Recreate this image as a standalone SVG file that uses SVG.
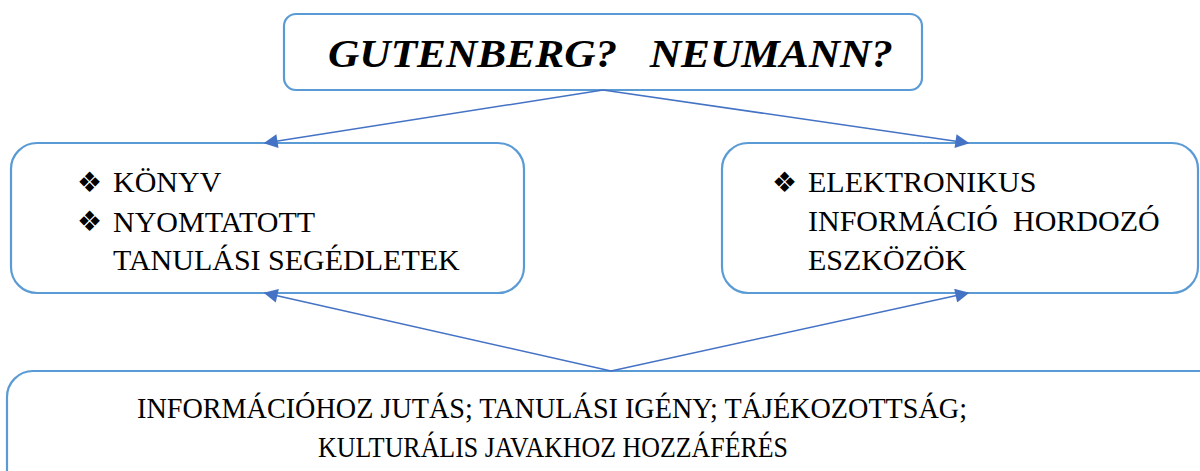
<svg xmlns="http://www.w3.org/2000/svg" width="1200" height="471" viewBox="0 0 1200 471">
<style>
.box{fill:#fff;stroke:#5b9bd5;stroke-width:2.2}
.c{stroke:#4472c4;stroke-width:1.5;fill:none}
.t{font-family:'Liberation Serif',serif;font-size:30px;fill:#000}
.h{font-family:'Liberation Serif',serif;font-size:41px;font-weight:bold;font-style:italic;fill:#000}
.b{font-family:'DejaVu Sans',sans-serif;font-size:28px;fill:#000}
</style>
<defs>
<marker id="ah" viewBox="0 0 10 10" refX="9" refY="5" markerWidth="16" markerHeight="14" markerUnits="userSpaceOnUse" orient="auto">
<path d="M0,0 L10,5 L0,10 z" fill="#4472c4"/>
</marker>
</defs>
<g id="top">
<rect class="box" x="284" y="14" width="638" height="76" rx="12"/>
<text class="h" font-family="Liberation Serif" x="328" y="67" textLength="565" lengthAdjust="spacingAndGlyphs">GUTENBERG?&#160;&#160; NEUMANN?</text>
</g>
<g id="left">
<rect class="box" x="11" y="143" width="513" height="150" rx="26"/>
<text class="b" x="77" y="192">❖</text>
<text class="t" font-family="Liberation Serif" x="113" y="192">KÖNYV</text>
<text class="b" x="77" y="231">❖</text>
<text class="t" font-family="Liberation Serif" x="113" y="232">NYOMTATOTT</text>
<text class="t" font-family="Liberation Serif" x="113" y="270">TANULÁSI SEGÉDLETEK</text>
</g>
<g id="right">
<rect class="box" x="722" y="143" width="476" height="150" rx="26"/>
<text class="b" x="772" y="192">❖</text>
<text class="t" font-family="Liberation Serif" x="808" y="192">ELEKTRONIKUS</text>
<text class="t" font-family="Liberation Serif" x="808" y="231">INFORMÁCIÓ&#160; HORDOZÓ</text>
<text class="t" font-family="Liberation Serif" x="808" y="270">ESZKÖZÖK</text>
</g>
<g id="bottom">
<rect class="box" x="7" y="371" width="1220" height="130" rx="26"/>
<text class="t" font-family="Liberation Serif" x="137" y="418" textLength="830" lengthAdjust="spacingAndGlyphs">INFORMÁCIÓHOZ JUTÁS; TANULÁSI IGÉNY; TÁJÉKOZOTTSÁG;</text>
<text class="t" font-family="Liberation Serif" x="318" y="457" textLength="470" lengthAdjust="spacingAndGlyphs">KULTURÁLIS JAVAKHOZ HOZZÁFÉRÉS</text>
</g>
<g id="connectors">
<line class="c" x1="603" y1="90" x2="265" y2="143" marker-end="url(#ah)"/>
<line class="c" x1="603" y1="90" x2="968" y2="143" marker-end="url(#ah)"/>
<line class="c" x1="611" y1="371" x2="265" y2="293" marker-end="url(#ah)"/>
<line class="c" x1="611" y1="371" x2="968" y2="293" marker-end="url(#ah)"/>
</g>
</svg>
